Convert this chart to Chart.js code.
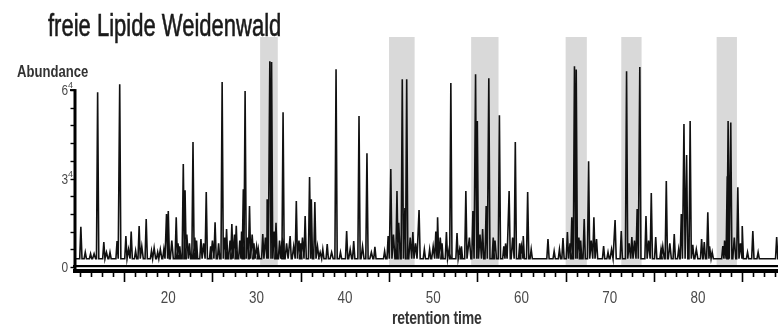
<!DOCTYPE html>
<html><head><meta charset="utf-8">
<script src="https://cdn.jsdelivr.net/npm/chart.js@4.4.1/dist/chart.umd.min.js"></script>
<style>
html,body{margin:0;padding:0;background:#fff;}
#wrap{position:relative;width:778px;height:329px;overflow:hidden;background:#fff;}
canvas{position:absolute;left:0;top:0;}
.t{position:absolute;white-space:nowrap;font-family:"Liberation Sans",Arial,sans-serif;line-height:1;transform-origin:0 0;}
</style></head><body>
<div id="wrap">
<canvas id="c" width="778" height="329"></canvas>
<div class="t" style="left:48px;top:10px;font-size:31px;color:#1a1a1a;-webkit-text-stroke:0.6px #1a1a1a;transform:scaleX(0.71);">freie Lipide Weidenwald</div>
<div class="t" style="left:17px;top:63px;font-size:17px;font-weight:bold;color:#333;transform:scaleX(0.77);">Abundance</div>
<div class="t" style="left:392px;top:309px;font-size:18px;font-weight:bold;color:#333;letter-spacing:-0.3px;transform:scaleX(0.78);">retention time</div>
</div>
<script>
// retention time (min) of each main peak apex
const peakTimes = [10.1,10.6,11.2,12.0,12.7,13.4,14.2,14.5,15.2,15.8,16.3,16.7,17.5,18.1,18.8,19.5,19.8,20.0,20.9,21.3,21.7,21.9,22.4,22.8,23.2,23.7,24.3,24.8,25.3,25.7,26.1,26.6,27.2,27.7,28.1,28.5,28.7,29.2,29.7,30.2,30.7,31.2,31.5,31.7,32.2,32.6,33.0,33.8,34.5,35.0,35.5,36.0,36.2,36.6,37.5,38.0,39.0,39.5,40.2,41.0,41.6,42.5,43.4,44.5,44.9,45.2,45.9,46.5,46.8,47.0,47.7,48.4,49.0,49.6,50.3,50.5,51.0,51.5,52.0,52.7,53.2,53.7,54.5,54.8,55.0,55.6,56.0,56.3,56.8,57.5,58.0,58.6,59.3,59.8,60.2,60.7,61.1,63.0,63.7,64.3,64.7,65.2,65.7,66.0,66.2,66.7,67.1,67.6,68.2,68.5,69.3,69.8,70.6,71.3,71.9,72.5,73.1,73.4,74.1,74.7,75.2,75.8,76.4,77.3,77.8,78.1,78.4,78.7,79.1,79.4,80.4,80.7,81.1,81.6,82.8,83.3,83.4,83.7,84.5,85.0,85.6,86.2,86.8,88.9];
// abundance of each main peak apex
const peakHeights = [1.36,0.5,0.45,5.93,0.85,0.5,0.88,6.2,1.05,1.2,0.55,1.39,1.63,0.55,0.5,0.6,1.8,1.9,1.69,0.7,3.49,2.6,0.8,4.24,0.9,0.95,2.54,0.7,1.52,0.8,6.27,1.29,1.46,1.4,0.9,2.64,5.97,2.07,0.8,0.6,1.12,2.3,6.98,6.95,1.5,0.9,5.25,1.05,2.24,0.8,1.73,3.05,2.3,2.2,0.6,0.78,6.71,0.5,1.22,0.88,5.12,3.86,0.68,0.54,1.05,3.32,2.58,6.37,2.0,6.37,1.19,1.93,0.6,0.6,1.2,1.69,0.8,1.19,6.24,1.15,0.7,2.58,1.9,6.54,4.95,1.29,2.07,6.4,1.0,5.15,0.7,2.58,4.24,0.8,1.05,2.54,0.6,0.95,0.54,0.6,0.98,1.19,1.69,6.81,6.7,0.9,1.63,3.59,1.69,0.95,0.71,0.5,1.59,1.22,6.64,1.02,1.97,6.78,1.73,2.51,1.02,0.6,2.92,1.12,0.6,1.8,4.85,3.8,4.95,0.75,0.95,0.85,1.86,0.5,0.71,3.08,4.95,4.9,2.7,1.39,0.5,1.22,0.5,1.02];
// small baseline bumps between the main peaks
const minorTimes = [11.6,13.0,15.5,17.0,18.4,19.1,20.4,21.1,22.1,23.0,24.0,25.0,26.4,27.0,27.5,28.3,29.0,29.5,30.0,31.0,32.0,32.9,33.4,34.2,34.8,35.2,36.9,37.2,38.5,40.6,42.0,43.0,45.5,46.1,47.4,48.0,50.0,50.8,51.8,53.0,54.1,55.3,57.0,58.2,59.0,60.0,65.5,66.5,67.9,70.2,72.2,72.8,74.4,76.0,76.8,79.8,81.3,83.0,84.1,84.8];
const minorHeights = [0.45,0.5,0.6,0.7,0.65,0.6,0.9,0.8,1.1,1.0,0.8,0.9,1.0,0.9,1.1,1.2,1.0,1.1,0.7,1.0,1.2,1.0,0.8,0.7,0.9,1.0,0.7,0.5,0.5,0.6,0.7,0.5,1.1,1.5,1.0,0.8,0.7,1.0,0.6,0.6,1.0,1.1,0.9,0.8,1.0,0.7,0.8,1.0,0.9,0.6,0.8,0.9,0.9,0.7,0.8,0.6,0.7,0.9,1.0,0.8];
const baselineLevel = 0.28;
// highlighted retention-time windows
const bandStarts = [30.4,45.0,54.3,65.0,71.3,82.1];
const bandEnds   = [32.4,47.9,57.4,67.4,73.6,84.4];
const xTickLabels = [20,30,40,50,60,70,80];
const yTickValues = [0,3,6];
const yTickLabels = ['0','3','6'];
const yTickSups   = ['','4','4'];
const xRange = [9.55, 89.05];
const yRange = [0, 7.8];

const peaks = peakTimes.map((t,i)=>({t, h:peakHeights[i], w:0.13}))
  .concat(minorTimes.map((t,i)=>({t, h:minorHeights[i], w:0.17})))
  .sort((a,b)=>a.t-b.t);
const points = [{x:xRange[0], y:baselineLevel}];
peaks.forEach(p=>{
  points.push({x:p.t-p.w, y:baselineLevel});
  points.push({x:p.t, y:p.h});
  points.push({x:p.t+p.w, y:baselineLevel});
});
points.push({x:xRange[1], y:baselineLevel});

const deco = {
  id:'deco',
  beforeDatasetsDraw(chart){
    const {ctx, chartArea:a, scales:{x,y}} = chart;
    ctx.save();
    ctx.fillStyle = '#d9d9d9';
    bandStarts.forEach((s,i)=>{
      const x0 = x.getPixelForValue(s), x1 = x.getPixelForValue(bandEnds[i]);
      ctx.fillRect(x0, a.top, x1-x0, y.getPixelForValue(0)-a.top-1);
    });
    ctx.restore();
  },
  afterDatasetsDraw(chart){
    const {ctx, scales:{x,y}} = chart;
    const W = chart.width;
    const y0 = y.getPixelForValue(0);
    ctx.save();
    ctx.fillStyle = '#000';
    ctx.fillRect(73, y0-2, W-73, 2.2);
    ctx.fillRect(73, y0+2, W-73, 4);
    ctx.strokeStyle = '#000';
    ctx.lineWidth = 1.6;
    for (let k=0;;k++){
      const v = 5 + k*1.25;
      if (v > xRange[1]) break;
      if (v < xRange[0]) continue;
      const px = Math.round(x.getPixelForValue(v))+0.5;
      const long = Math.abs(((v-5)%10)) < 1e-6;
      ctx.beginPath();
      ctx.moveTo(px, y0+5);
      ctx.lineTo(px, y0 + (long ? 15 : 10));
      ctx.stroke();
    }
    const yTop = y.getPixelForValue(6);
    ctx.fillRect(73.5, yTop-1, 3, y0-yTop+7);
    ctx.fillRect(70, yTop-1, 5, 2);
    ctx.lineWidth = 1.4;
    for (let k=0;k<=10;k++){
      const py = Math.round(y.getPixelForValue(k*0.6))+0.5;
      ctx.beginPath();
      ctx.moveTo(70.5, py);
      ctx.lineTo(74, py);
      ctx.stroke();
    }
    ctx.fillStyle = '#4a4a4a';
    ctx.font = '17px "Liberation Sans", Arial, sans-serif';
    ctx.textAlign = 'center';
    ctx.textBaseline = 'alphabetic';
    xTickLabels.forEach(v=>{
      const px = x.getPixelForValue(v);
      ctx.save();
      ctx.translate(px, 303);
      ctx.scale(0.79, 1);
      ctx.fillText(String(v), 0, 0);
      ctx.restore();
    });
    yTickValues.forEach((v,i)=>{
      const py = y.getPixelForValue(v);
      ctx.save();
      ctx.translate(68, py+5);
      ctx.scale(0.85,1);
      ctx.font = '14px "Liberation Sans", Arial, sans-serif';
      ctx.textAlign = 'right';
      ctx.fillText(yTickLabels[i], 0, 0);
      ctx.restore();
      if (yTickSups[i]){
        ctx.save();
        ctx.font = '9px "Liberation Sans", Arial, sans-serif';
        ctx.textAlign = 'left';
        ctx.fillText(yTickSups[i], 68, py-2);
        ctx.restore();
      }
    });
    ctx.restore();
  }
};

new Chart(document.getElementById('c'), {
  type:'line',
  data:{datasets:[{
    data:points,
    borderColor:'#111',
    borderWidth:1.6,
    pointRadius:0,
    tension:0,
    fill:false
  }]},
  options:{
    responsive:false,
    animation:false,
    devicePixelRatio:1,
    layout:{padding:{left:76,right:0,top:37,bottom:62}},
    plugins:{legend:{display:false},tooltip:{enabled:false},title:{display:false}},
    scales:{
      x:{type:'linear',min:xRange[0],max:xRange[1],display:false},
      y:{type:'linear',min:yRange[0],max:yRange[1],display:false}
    }
  },
  plugins:[deco]
});
</script>
</body></html>
